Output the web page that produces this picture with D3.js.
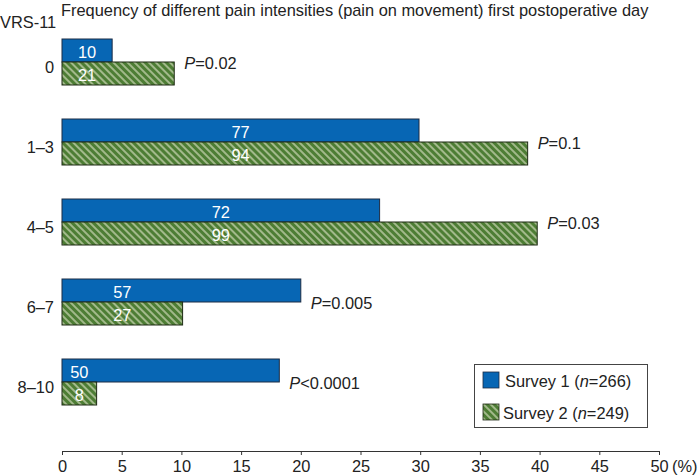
<!DOCTYPE html>
<html>
<head>
<meta charset="utf-8">
<script src="https://cdn.jsdelivr.net/npm/d3@7/dist/d3.min.js"></script>
<style>
  html, body { margin: 0; padding: 0; background: #fff; }
  svg { display: block; font-family: "Liberation Sans", Arial, Helvetica, sans-serif; }
</style>
</head>
<body>
<svg id="chart" width="699" height="476"></svg>
<script>
// ---- data ----
const categories = ["0", "1\u20133", "4\u20135", "6\u20137", "8\u201310"];
const survey1Pct = [4.2, 29.9, 26.6, 20.0, 18.2];
const survey2Pct = [9.4, 39.0, 39.8, 10.1, 2.9];
const survey1Count = [10, 77, 72, 57, 50];
const survey2Count = [21, 94, 99, 27, 8];
const pValues = ["=0.02", "=0.1", "=0.03", "=0.005", "<0.0001"];
const xTicks = [0, 5, 10, 15, 20, 25, 30, 35, 40, 45, 50];
const seriesNames = ["Survey 1", "Survey 2"];
const seriesN = ["266", "249"];

const svg = d3.select("#chart");
const blue = "#0766b4";
const green = "#4d7d34";
const fs = 16.4;

// hatch pattern
const defs = svg.append("defs");
const pat = defs.append("pattern")
  .attr("id", "hatch")
  .attr("patternUnits", "userSpaceOnUse")
  .attr("width", 5).attr("height", 5)
  .attr("patternTransform", "rotate(-45)");
pat.append("rect").attr("width", 5).attr("height", 5).attr("fill", green);
pat.append("rect").attr("x", 0).attr("width", 2).attr("height", 5).attr("fill", "#a2b98b");

const x = d3.scaleLinear().domain([0, 50]).range([62, 659]);
const y = d3.scalePoint().domain(categories).range([62, 382]);
const barH = 23;

// title
svg.append("text").attr("x", 61).attr("y", 16)
  .attr("font-size", fs).attr("fill", "#222")
  .text("Frequency of different pain intensities (pain on movement) first postoperative day");
svg.append("text").attr("x", 0).attr("y", 28)
  .attr("font-size", fs).attr("fill", "#222")
  .text("VRS-11");

// category labels
svg.selectAll(".cat").data(categories).enter().append("text")
  .attr("x", 54).attr("y", d => y(d) + 5)
  .attr("text-anchor", "end").attr("dominant-baseline", "central")
  .attr("font-size", fs).attr("fill", "#222")
  .text(d => d);

const rows = categories.map((c, i) => ({
  c, s1: survey1Pct[i], s2: survey2Pct[i], n1: survey1Count[i], n2: survey2Count[i], p: pValues[i]
}));

// bars
svg.selectAll(".b1").data(rows).enter().append("rect")
  .attr("x", x(0)).attr("y", d => y(d.c) - barH)
  .attr("width", d => x(d.s1) - x(0)).attr("height", barH)
  .attr("fill", blue).attr("stroke", "#1c2c44").attr("stroke-width", 1);
svg.selectAll(".b2").data(rows).enter().append("rect")
  .attr("x", x(0)).attr("y", d => y(d.c))
  .attr("width", d => x(d.s2) - x(0)).attr("height", barH)
  .attr("fill", "url(#hatch)").attr("stroke", "#1e2a14").attr("stroke-width", 1);

// counts inside bars (centered on shorter bar)
const lx = d => x(Math.min(d.s1, d.s2) / 2);
svg.selectAll(".l1").data(rows).enter().append("text")
  .attr("x", lx).attr("y", d => y(d.c) - barH / 2 + 1)
  .attr("text-anchor", "middle").attr("dominant-baseline", "central")
  .attr("font-size", fs).attr("fill", "#fff").text(d => d.n1);
svg.selectAll(".l2").data(rows).enter().append("text")
  .attr("x", lx).attr("y", d => y(d.c) + barH / 2 + 1)
  .attr("text-anchor", "middle").attr("dominant-baseline", "central")
  .attr("font-size", fs).attr("fill", "#fff").text(d => d.n2);

// P values
const pt = svg.selectAll(".p").data(rows).enter().append("text")
  .attr("x", d => x(Math.max(d.s1, d.s2)) + 10).attr("y", d => y(d.c) + 1)
  .attr("dominant-baseline", "central")
  .attr("font-size", fs).attr("fill", "#222");
pt.append("tspan").attr("font-style", "italic").text("P");
pt.append("tspan").text(d => d.p);

// x axis
const axis = svg.append("g").attr("transform", "translate(0,451)")
  .call(d3.axisBottom(x).tickValues(xTicks).tickSize(4).tickPadding(5).tickFormat(d3.format("d")));
axis.select(".domain").attr("stroke", "#333");
axis.selectAll(".tick line").attr("stroke", "#333");
axis.selectAll(".tick text").attr("font-size", fs).attr("fill", "#222")
  .attr("font-family", "Liberation Sans, Arial, sans-serif");
svg.append("text").attr("x", x(50) + 13).attr("y", 472)
  .attr("font-size", fs).attr("fill", "#222").text("(%)");

// legend
const lg = svg.append("g");
lg.append("rect").attr("x", 474.5).attr("y", 364.5).attr("width", 173).attr("height", 63)
  .attr("fill", "#fff").attr("stroke", "#444").attr("stroke-width", 1);
const fills = [blue, "url(#hatch)"];
const strokes = ["#1c2c44", "#1e2a14"];
seriesNames.forEach((nm, i) => {
  const gy = 372 + i * 32;
  lg.append("rect").attr("x", 483).attr("y", gy).attr("width", 16).attr("height", 16)
    .attr("fill", fills[i]).attr("stroke", strokes[i]).attr("stroke-width", 0.8);
  const t = lg.append("text").attr("x", 505 - i * 2).attr("y", gy + 9)
    .attr("dominant-baseline", "central").attr("font-size", fs).attr("fill", "#222");
  t.append("tspan").text(nm + " (");
  t.append("tspan").attr("font-style", "italic").text("n");
  t.append("tspan").text("=" + seriesN[i] + ")");
});
</script>
</body>
</html>
